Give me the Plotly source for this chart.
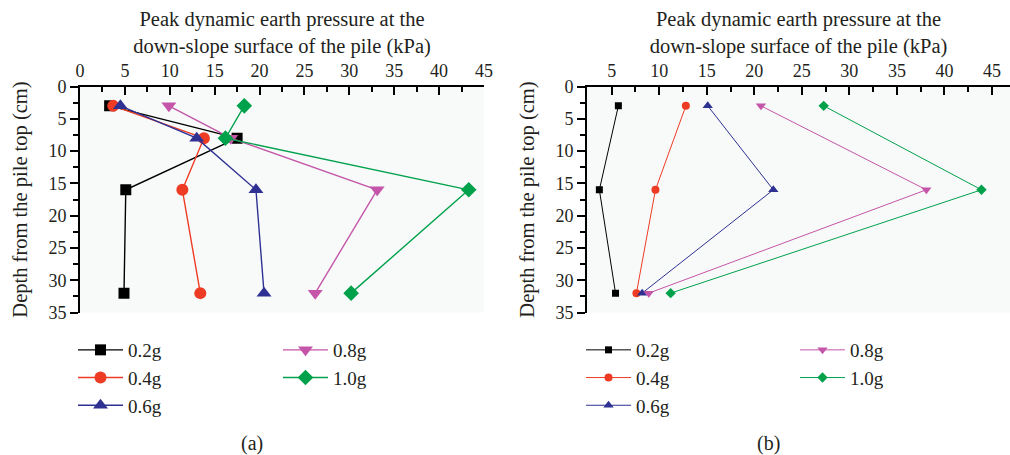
import plotly.graph_objects as go

# ---- data ----
depth_a = [3, 8, 16, 32]
a_02 = [3.3, 17.5, 5.1, 4.9]
a_04 = [3.7, 13.8, 11.4, 13.4]
a_06 = [4.5, 13.0, 19.6, 20.5]
a_08 = [9.9, 16.8, 33.1, 26.2]
a_10 = [18.3, 16.2, 43.3, 30.2]

depth_b = [3, 16, 32]
b_02 = [5.7, 3.7, 5.4]
b_04 = [12.8, 9.6, 7.6]
b_06 = [15.1, 22.0, 8.2]
b_08 = [20.7, 38.1, 8.9]
b_10 = [27.3, 43.9, 11.2]

names = ["0.2g", "0.4g", "0.6g", "0.8g", "1.0g"]
x_ticks = [0, 5, 10, 15, 20, 25, 30, 35, 40, 45]
y_ticks = [0, 5, 10, 15, 20, 25, 30, 35]

# ---- styles ----
colors = ["#000000", "#ee3b24", "#2e3192", "#c455a8", "#00a14b"]
symbols = ["square", "circle", "triangle-up", "triangle-down", "diamond"]
size_a = [11, 12, 13, 13, 12]
size_b = [7, 8, 9, 9, 8]
FONT = "Liberation Serif, Times New Roman, serif"
TXT = "#231f20"

W, H = 1010, 455
fig = go.Figure()

series_a = [a_02, a_04, a_06, a_08, a_10]
series_b = [b_02, b_04, b_06, b_08, b_10]
for i, (nm, vals) in enumerate(zip(names, series_a)):
    fig.add_trace(go.Scatter(
        x=vals, y=depth_a, name=nm, mode="lines+markers",
        line=dict(color=colors[i], width=1.4),
        marker=dict(symbol=symbols[i], size=size_a[i], color=colors[i]),
        xaxis="x", yaxis="y",
        legend="legend" if i < 3 else "legend2",
    ))
for i, (nm, vals) in enumerate(zip(names, series_b)):
    fig.add_trace(go.Scatter(
        x=vals, y=depth_b, name=nm, mode="lines+markers",
        line=dict(color=colors[i], width=1),
        marker=dict(symbol=symbols[i], size=size_b[i], color=colors[i]),
        xaxis="x2", yaxis="y2",
        legend="legend3" if i < 3 else "legend4",
    ))

xtitle = "Peak dynamic earth pressure at the<br>down-slope surface of the pile (kPa)"
ytitle = "Depth from the pile top (cm)"

def xax(domain, rng, anchor):
    return dict(
        domain=domain, range=rng, side="top", anchor=anchor, automargin=False,
        showline=True, linecolor="black", linewidth=2,
        ticks="inside", ticklen=8, tickwidth=2, tickcolor="black",
        tickvals=x_ticks, ticktext=[str(v) for v in x_ticks],
        minor=dict(ticks="inside", ticklen=5, tickwidth=2, tickcolor="black", dtick=2.5, tick0=0),
        showgrid=False, zeroline=False,
        tickfont=dict(family=FONT, size=18, color=TXT),
        title=dict(text=xtitle, font=dict(family=FONT, size=20.5, color=TXT), standoff=2),
    )

def yax(domain, anchor):
    return dict(
        domain=domain, range=[35, 0], anchor=anchor, automargin=False,
        showline=True, linecolor="black", linewidth=2,
        ticks="outside", ticklen=8, tickwidth=2, tickcolor="black",
        tickvals=y_ticks, ticktext=[str(v) for v in y_ticks],
        minor=dict(ticks="outside", ticklen=5, tickwidth=2, tickcolor="black", dtick=2.5, tick0=0),
        showgrid=False, zeroline=False,
        tickfont=dict(family=FONT, size=18, color=TXT),
        title=dict(text=ytitle, font=dict(family=FONT, size=20.5, color=TXT)),
    )

ydom = [1 - 312.5 / H, 1 - 86.5 / H]

def leg(xpx, ypx):
    return dict(x=xpx / W, y=1 - ypx / H, xanchor="left", yanchor="top",
                bgcolor="rgba(0,0,0,0)", itemwidth=45,
                font=dict(family=FONT, size=19, color=TXT),
                tracegroupgap=0)

fig.update_layout(
    width=W, height=H,
    margin=dict(l=0, r=0, t=0, b=0, autoexpand=False),
    paper_bgcolor="white", plot_bgcolor="#f8fafa",
    font=dict(family=FONT, color=TXT),
    xaxis=xax([80 / W, 484 / W], [0, 45], "y"),
    yaxis=yax(ydom, "x"),
    xaxis2=xax([587 / W, 1.0], [2.4, 46.9], "y2"),
    yaxis2=yax(ydom, "x2"),
    legend=leg(73, 331),
    legend2=leg(278, 331),
    legend3=leg(581, 331),
    legend4=leg(795, 331),
    annotations=[
        dict(text="(a)", x=252 / W, y=1 - 443 / H, xref="paper", yref="paper",
             xanchor="center", yanchor="middle",
             showarrow=False, font=dict(family=FONT, size=20, color=TXT)),
        dict(text="(b)", x=768 / W, y=1 - 443 / H, xref="paper", yref="paper",
             xanchor="center", yanchor="middle",
             showarrow=False, font=dict(family=FONT, size=20, color=TXT)),
    ],
)

fig.write_html("out.html", config={"displayModeBar": False},
               post_script="document.body.style.margin='0';")
